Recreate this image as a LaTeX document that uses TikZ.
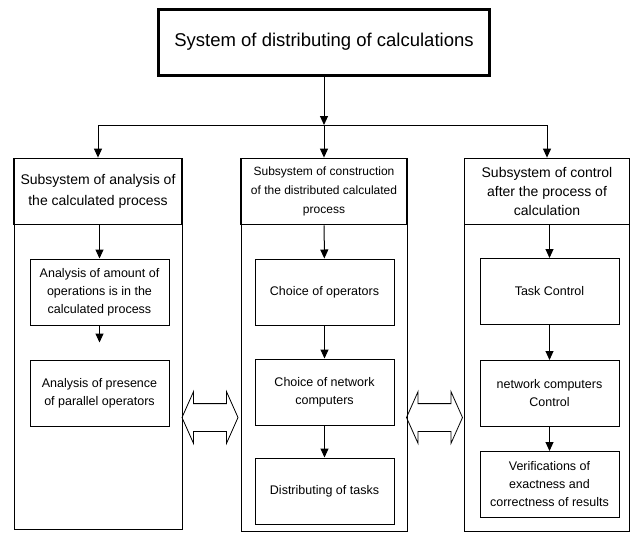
\documentclass[tikz,border=0pt]{standalone}
\usepackage{fontspec}
\setmainfont{Liberation Sans}
\usetikzlibrary{arrows.meta, shapes.arrows}

\tikzset{
  topbox/.style={draw, line width=3pt, minimum width=331, minimum height=66, inner sep=0pt, font=\fontsize{18.5}{22}\selectfont},
  headbox/.style={draw, line width=1.8pt, minimum height=66, inner sep=0pt, align=center},
  colbox/.style={draw, line width=1pt, inner sep=0pt},
  stagebox/.style={draw, line width=1pt, minimum width=139, minimum height=66, inner sep=0pt, align=center, font=\fontsize{12.5}{18}\selectfont},
  arr/.style={line width=1pt, -{Triangle[length=9pt,width=8pt]}},
  twoway/.style={draw, line width=0.8pt, double arrow, inner xsep=0pt, inner ysep=13.5pt, minimum height=56, double arrow head extend=12, double arrow tip angle=132}
}

\begin{document}
\begin{tikzpicture}[x=1pt, y=-1pt]
	\useasboundingbox (0,0) rectangle (631,533);
	% frames of the three columns
	\node[colbox, minimum width=168, minimum height=371] (cL) at (98,343.5) {};
	\node[colbox, minimum width=166, minimum height=373] (cM) at (324,344.5) {};
	\node[colbox, minimum width=165, minimum height=373] (cR) at (547,344.5) {};
	% top level
	\node[topbox] (top) at (324,42) {System of distributing of calculations};
	\coordinate (bus) at (324,125);
	% subsystems
	\node[headbox, minimum width=168, font=\fontsize{14}{21}\selectfont] (hL) at (98,191.5) {Subsystem of analysis of\\the calculated process};
	\node[headbox, minimum width=166, font=\fontsize{12}{19}\selectfont] (hM) at (324,191.5) {Subsystem of construction\\of the distributed calculated\\process};
	\node[headbox, minimum width=165, font=\fontsize{14}{19}\selectfont] (hR) at (547,191.5) {Subsystem of control\\after the process of\\calculation};
	% left column
	\node[stagebox] (l1) at (99.5,292) {Analysis of amount of\\operations is in the\\calculated process};
	\node[stagebox] (l2) at (99.5,393) {Analysis of presence\\of parallel operators};
	% middle column
	\node[stagebox] (m1) at (324.5,292) {Choice of operators};
	\node[stagebox] (m2) at (324.5,392) {Choice of network\\computers};
	\node[stagebox] (m3) at (324.5,491) {Distributing of tasks};
	% right column
	\node[stagebox] (r1) at (549.5,291.5) {Task Control};
	\node[stagebox] (r2) at (549.5,393.5) {network computers\\Control};
	\node[stagebox] (r3) at (549.5,484.5) {Verifications of\\exactness and\\correctness of results};
	% exchange between columns
	\node[twoway] (xL) at (210,417.5) {};
	\node[twoway] (xR) at (434.5,417.5) {};
	% connectors
	\draw[arr] (top) -- (bus);
	\draw[line width=1pt] (99,125) -- (547,125);
	\draw[arr] (bus) -| (hL);
	\draw[arr] (bus) -- (hM);
	\draw[arr] (bus) -| (hR);
	\draw[arr] (hL.south -| l1.north) -- (l1);
	\draw[arr, shorten >=17pt] (l1) -- (l2);
	\draw[arr] (hM) -- (m1);
	\draw[arr] (m1) -- (m2);
	\draw[arr] (m2) -- (m3);
	\draw[arr] (hR.south -| r1.north) -- (r1);
	\draw[arr] (r1) -- (r2);
	\draw[arr] (r2) -- (r3);
\end{tikzpicture}
\end{document}
